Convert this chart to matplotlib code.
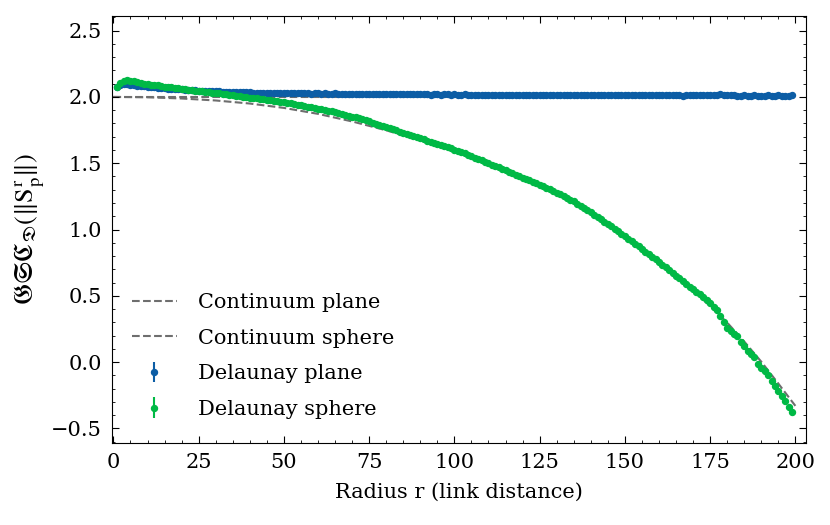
import numpy as np
import matplotlib
matplotlib.use('Agg')
import matplotlib.pyplot as plt

# Estilo tipo SciencePlots
plt.rcParams['font.family'] = ['DejaVu Serif']
plt.rcParams['mathtext.fontset'] = 'stix'
plt.rcParams['font.size'] = 15
plt.rcParams['axes.linewidth'] = 0.8
plt.rcParams['xtick.direction'] = 'in'
plt.rcParams['ytick.direction'] = 'in'
plt.rcParams['xtick.top'] = True
plt.rcParams['ytick.right'] = True
plt.rcParams['xtick.minor.visible'] = True
plt.rcParams['ytick.minor.visible'] = True
plt.rcParams['xtick.major.size'] = 5
plt.rcParams['ytick.major.size'] = 5
plt.rcParams['xtick.minor.size'] = 2.5
plt.rcParams['ytick.minor.size'] = 2.5
plt.rcParams['xtick.major.width'] = 0.8
plt.rcParams['ytick.major.width'] = 0.8
plt.rcParams['xtick.minor.width'] = 0.6
plt.rcParams['ytick.minor.width'] = 0.6
plt.rcParams['xtick.major.pad'] = 7
plt.rcParams['ytick.major.pad'] = 7

# Curvas continuas
r_cont_plane = [0, 200]
cont_plane = [2.0, 2.0]
r_cont_sphere = [0, 10, 20, 30, 40, 50, 60, 70, 80, 90, 100, 110, 120, 130,
                 140, 150, 160, 170, 180, 185, 190, 195, 200]
cont_sphere = [2.000, 1.997, 1.988, 1.973, 1.950, 1.917, 1.872, 1.815, 1.748,
               1.672, 1.590, 1.495, 1.390, 1.275, 1.135, 0.955, 0.755, 0.545,
               0.298, 0.155, 0.003, -0.162, -0.330]

# Radios 1..199
r_delaunay = list(range(1, 200))

delaunay_plane = [
    2.076, 2.090, 2.095, 2.094, 2.091, 2.088, 2.085, 2.082, 2.079, 2.077,
    2.074, 2.072, 2.070, 2.067, 2.065, 2.063, 2.061, 2.059, 2.057, 2.056,
    2.054, 2.052, 2.051, 2.049, 2.048, 2.047, 2.045, 2.044, 2.043, 2.042,
    2.041, 2.040, 2.039, 2.038, 2.037, 2.036, 2.036, 2.035, 2.034, 2.034,
    2.033, 2.033, 2.032, 2.031, 2.031, 2.030, 2.031, 2.029, 2.029, 2.028,
    2.028, 2.027, 2.029, 2.027, 2.026, 2.028, 2.026, 2.025, 2.027, 2.026,
    2.025, 2.026, 2.024, 2.025, 2.026, 2.024, 2.023, 2.025, 2.024, 2.023,
    2.024, 2.022, 2.023, 2.024, 2.022, 2.021, 2.023, 2.022, 2.021, 2.022,
    2.020, 2.022, 2.021, 2.020, 2.021, 2.019, 2.021, 2.020, 2.019, 2.020,
    2.021, 2.019, 2.018, 2.020, 2.019, 2.018, 2.020, 2.019, 2.017, 2.019,
    2.018, 2.017, 2.019, 2.018, 2.017, 2.018, 2.016, 2.018, 2.017, 2.016,
    2.018, 2.017, 2.016, 2.015, 2.017, 2.016, 2.015, 2.017, 2.016, 2.015,
    2.016, 2.014, 2.016, 2.015, 2.014, 2.016, 2.015, 2.013, 2.015, 2.014,
    2.015, 2.013, 2.014, 2.015, 2.013, 2.012, 2.014, 2.013, 2.015, 2.013,
    2.012, 2.014, 2.013, 2.012, 2.014, 2.013, 2.011, 2.013, 2.012, 2.014,
    2.016, 2.018, 2.015, 2.013, 2.012, 2.013, 2.011, 2.012, 2.014, 2.012,
    2.011, 2.013, 2.012, 2.011, 2.013, 2.012, 2.010, 2.012, 2.011, 2.013,
    2.012, 2.014, 2.016, 2.017, 2.015, 2.016, 2.018, 2.019, 2.017, 2.015,
    2.012, 2.011, 2.010, 2.009, 2.011, 2.010, 2.009, 2.011, 2.010, 2.009,
    2.010, 2.011, 2.009, 2.010, 2.011, 2.010, 2.009, 2.010, 2.011,
]

delaunay_sphere = [
    2.078, 2.108, 2.122, 2.126, 2.121, 2.117, 2.112, 2.106, 2.101, 2.097,
    2.093, 2.089, 2.086, 2.082, 2.078, 2.075, 2.071, 2.068, 2.065, 2.061,
    2.058, 2.055, 2.052, 2.048, 2.045, 2.042, 2.039, 2.035, 2.032, 2.029,
    2.026, 2.022, 2.019, 2.015, 2.012, 2.009, 2.005, 2.001, 1.998, 1.994,
    1.992, 1.989, 1.985, 1.982, 1.979, 1.975, 1.972, 1.968, 1.964, 1.960,
    1.956, 1.951, 1.947, 1.942, 1.937, 1.932, 1.927, 1.922, 1.917, 1.912,
    1.907, 1.901, 1.896, 1.890, 1.884, 1.878, 1.871, 1.865, 1.858, 1.852,
    1.846, 1.840, 1.832, 1.823, 1.815, 1.806, 1.798, 1.789, 1.781, 1.772,
    1.764, 1.755, 1.747, 1.738, 1.730, 1.721, 1.713, 1.704, 1.696, 1.687,
    1.679, 1.670, 1.662, 1.653, 1.645, 1.636, 1.628, 1.619, 1.611, 1.602,
    1.594, 1.585, 1.575, 1.564, 1.554, 1.543, 1.532, 1.522, 1.511, 1.500,
    1.489, 1.479, 1.468, 1.457, 1.446, 1.435, 1.424, 1.414, 1.403, 1.392,
    1.381, 1.370, 1.359, 1.347, 1.336, 1.325, 1.313, 1.302, 1.290, 1.278,
    1.265, 1.252, 1.239, 1.226, 1.212, 1.196, 1.180, 1.163, 1.147, 1.130,
    1.113, 1.095, 1.078, 1.060, 1.042, 1.024, 1.005, 0.987, 0.968, 0.950,
    0.931, 0.911, 0.892, 0.872, 0.853, 0.833, 0.814, 0.794, 0.775, 0.755,
    0.735, 0.714, 0.693, 0.673, 0.652, 0.632, 0.611, 0.591, 0.570, 0.550,
    0.530, 0.510, 0.490, 0.469, 0.445, 0.418, 0.390, 0.345, 0.305, 0.256,
    0.238, 0.215, 0.198, 0.155, 0.122, 0.087, 0.062, 0.042, -0.013, -0.046,
    -0.064, -0.097, -0.139, -0.179, -0.217, -0.255, -0.290, -0.335, -0.380,
]

yerr = 0.004

fig = plt.figure(figsize=(8.3, 5.25), dpi=100)
ax = fig.add_axes([0.1346, 0.1562, 0.836, 0.8133])

ax.plot(r_cont_plane, cont_plane, '--', color='#6e6e6e', lw=1.5, label='Continuum plane', zorder=1)
ax.plot(r_cont_sphere, cont_sphere, '--', color='#6e6e6e', lw=1.5, label='Continuum sphere', zorder=1)
ax.errorbar(r_delaunay, delaunay_plane, yerr=yerr, fmt='o', color='#0C5DA5', ms=4.3,
            elinewidth=1.5, label='Delaunay plane', zorder=2)
ax.errorbar(r_delaunay, delaunay_sphere, yerr=yerr, fmt='o', color='#00B945', ms=4.3,
            elinewidth=1.5, label='Delaunay sphere', zorder=3)

ax.set_xlim(-0.5, 203)
ax.set_ylim(-0.61, 2.61)
ax.set_xticks([0, 25, 50, 75, 100, 125, 150, 175, 200])
ax.set_yticks([-0.5, 0.0, 0.5, 1.0, 1.5, 2.0, 2.5])
ax.xaxis.set_minor_locator(matplotlib.ticker.MultipleLocator(5))
ax.yaxis.set_minor_locator(matplotlib.ticker.MultipleLocator(0.1))

ax.set_xlabel('Radius r (link distance)', labelpad=8)
ax.set_ylabel(r'$\mathfrak{GSC}_{\mathfrak{D}}(\|\mathrm{S}_\mathrm{p}^\mathrm{r}\|)$',
              fontsize=19, labelpad=3)

ax.legend(loc='lower left', bbox_to_anchor=(-0.006, 0), frameon=False,
          handlelength=2.2, handletextpad=1.0, labelspacing=0.8, borderaxespad=0.75)

plt.savefig('out.png', dpi=100)
